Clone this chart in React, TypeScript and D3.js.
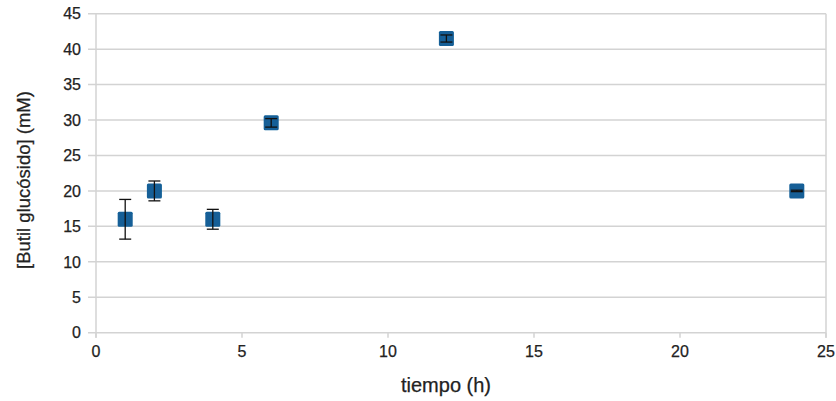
import React from "react";
import * as d3 from "d3";

// Butyl glucoside concentration over time
const times = [1, 2, 4, 6, 12, 24];
const concentrations = [16, 20, 16, 29.6, 41.5, 20];
const errLow = [13.2, 18.6, 14.6, 29.0, 41.0, 19.9];
const errHigh = [18.8, 21.4, 17.4, 30.2, 42.0, 20.1];
const xTicks = [0, 5, 10, 15, 20, 25];
const yTicks = [0, 5, 10, 15, 20, 25, 30, 35, 40, 45];

const W = 836;
const H = 401;

export default function App() {
  const x = d3.scaleLinear().domain([0, 25]).range([96, 826]);
  const y = d3.scaleLinear().domain([0, 45]).range([332.7, 13.7]);
  const font = "'Liberation Sans', Arial, sans-serif";
  const blue = "#125f97";
  const cap = 6;
  const half = 7.5;
  const textStyle = { stroke: "#222", strokeWidth: 0.25 };

  return (
    <svg
      width={W}
      height={H}
      style={{ position: "absolute", left: 0, top: 0 }}
      fontFamily={font}
    >
      <defs>
        <filter id="soft" x="-20%" y="-20%" width="140%" height="140%">
          <feGaussianBlur stdDeviation="0.6" />
        </filter>
      </defs>
      <rect width={W} height={H} fill="#fff" />
      {/* horizontal gridlines with left tick marks */}
      {yTicks.map((t) => (
        <g key={"y" + t}>
          <line
            x1={x(0) - 8}
            x2={x(25)}
            y1={y(t)}
            y2={y(t)}
            stroke="#d3d3d3"
            strokeWidth={1.5}
          />
          <text
            x={81}
            y={y(t)}
            dy="0.36em"
            textAnchor="end"
            fontSize={16}
            fill="#222"
            style={textStyle}
          >
            {t}
          </text>
        </g>
      ))}
      {/* vertical axis lines */}
      <line x1={x(0)} x2={x(0)} y1={y(45)} y2={y(0) + 5} stroke="#d3d3d3" strokeWidth={1.5} />
      <line x1={x(25)} x2={x(25)} y1={y(45)} y2={y(0) + 5} stroke="#d3d3d3" strokeWidth={1.5} />
      {xTicks.map((t) => (
        <g key={"x" + t}>
          <line x1={x(t)} x2={x(t)} y1={y(0)} y2={y(0) + 5} stroke="#d3d3d3" strokeWidth={1.5} />
          <text
            x={x(t)}
            y={357}
            textAnchor="middle"
            fontSize={16}
            fill="#222"
            style={textStyle}
          >
            {t}
          </text>
        </g>
      ))}
      {/* markers */}
      <g filter="url(#soft)">
        {times.map((t, i) => (
          <rect
            key={"m" + i}
            x={x(t) - half}
            y={y(concentrations[i]) - half}
            width={half * 2}
            height={half * 2}
            rx={1.5}
            fill={blue}
          />
        ))}
      </g>
      {/* error bars */}
      {times.map((t, i) => (
        <g key={"e" + i} stroke="#111" strokeWidth={1.3}>
          <line x1={x(t)} x2={x(t)} y1={y(errLow[i])} y2={y(errHigh[i])} />
          <line x1={x(t) - cap} x2={x(t) + cap} y1={y(errLow[i])} y2={y(errLow[i])} />
          <line x1={x(t) - cap} x2={x(t) + cap} y1={y(errHigh[i])} y2={y(errHigh[i])} />
        </g>
      ))}
      <text
        x={446}
        y={392}
        textAnchor="middle"
        fontSize={20}
        fill="#222"
        style={textStyle}
      >
        tiempo (h)
      </text>
      <text
        transform={`translate(30, 180) rotate(-90)`}
        textAnchor="middle"
        fontSize={18.5}
        fill="#222"
        style={textStyle}
      >
        [Butil glucósido] (mM)
      </text>
    </svg>
  );
}
